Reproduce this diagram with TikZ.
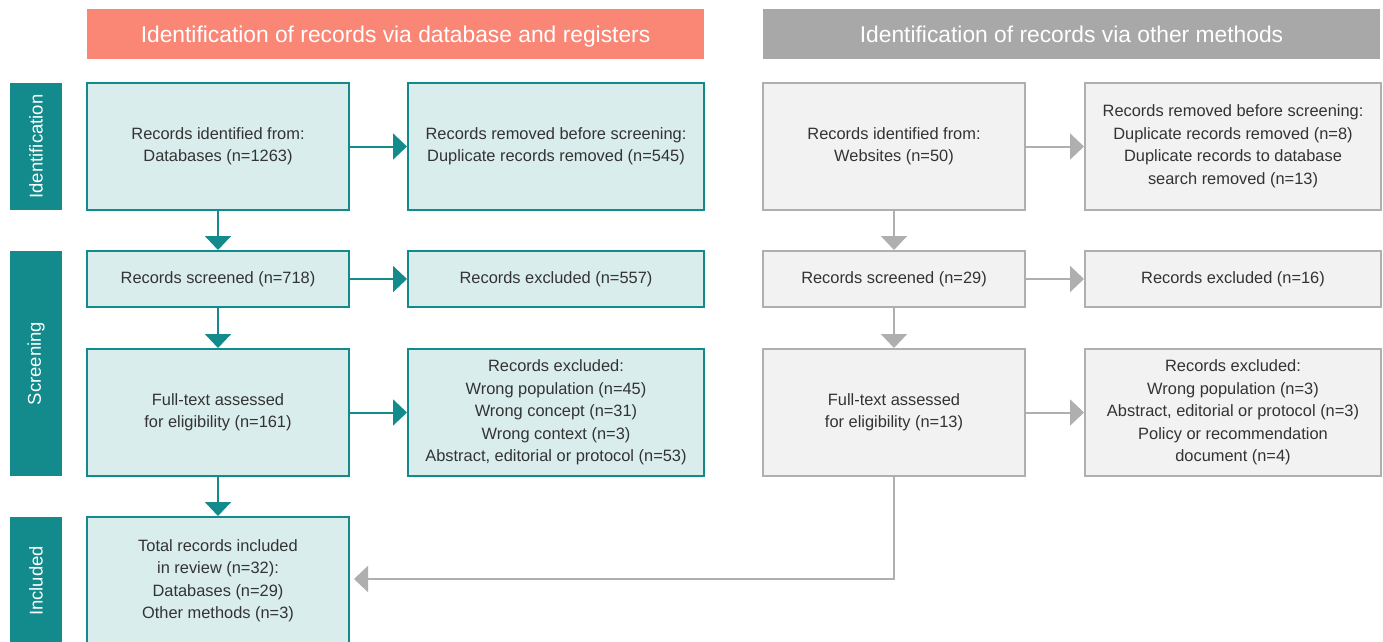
\documentclass[tikz,border=0pt]{standalone}
\usepackage{fontspec}
\setmainfont{Liberation Sans}
\usetikzlibrary{arrows.meta}
\definecolor{teal1}{HTML}{138A8B}
\definecolor{tealfill}{HTML}{DAEDED}
\definecolor{salmon}{HTML}{FA8676}
\definecolor{grayhead}{HTML}{A8A8A8}
\definecolor{grayfill}{HTML}{F2F2F2}
\definecolor{grayline}{HTML}{AFAFAF}
\definecolor{txt}{HTML}{333333}
\tikzset{
  header/.style={inner sep=0pt, minimum width=617pt, minimum height=50pt, text height=20pt, text depth=2pt, text=white, font=\fontsize{22.8}{27}\selectfont},
  side/.style={fill=teal1, inner sep=0pt, minimum width=52pt, text=white, font=\fontsize{18.5}{22}\selectfont, rotate=90},
  tbox/.style={draw=teal1, line width=2pt, fill=tealfill, inner sep=0pt, align=center, text=txt, font=\fontsize{16.4}{22.5}\selectfont},
  gbox/.style={draw=grayline, line width=2pt, fill=grayfill, inner sep=0pt, align=center, text=txt, font=\fontsize{16.4}{22.5}\selectfont},
  narrow/.style={minimum width=262pt},
  wide/.style={minimum width=296pt},
  tall/.style={minimum height=127pt},
  short/.style={minimum height=56pt},
  tharr/.style={draw=teal1, line width=2pt, -{Triangle[length=14pt, width=26pt]}},
  gharr/.style={draw=grayline, line width=2pt, -{Triangle[length=14pt, width=26pt]}},
}
\begin{document}
\begin{tikzpicture}[x=1pt,y=-1pt]
\useasboundingbox[fill=white] (0,0) rectangle (1383,642);
% headers
\node[header, fill=salmon] (hL) at (395.5,34) {Identification of records via database and registers};
\node[header, fill=grayhead] (hR) at (1071.5,34) {Identification of records via other methods};
% side labels
\node[side, minimum width=127pt, minimum height=52pt] (sI) at (36,146.5) {Identification};
\node[side, minimum width=225pt, minimum height=52pt] (sS) at (36,363.5) {Screening};
\node[side, minimum width=128pt, minimum height=52pt] (sN) at (36,581) {Included};
% left column
\node[tbox, narrow, tall] (a1) at (218,146.5) {Records identified from:\\Databases (n=1263)};
\node[tbox, wide, tall] (a2) at (556,146.5) {Records removed before screening:\\Duplicate records removed (n=545)};
\node[tbox, narrow, short] (a3) at (218,279) {Records screened (n=718)};
\node[tbox, wide, short] (a4) at (556,279) {Records excluded (n=557)};
\node[tbox, narrow, tall] (a5) at (218,412.5) {Full-text assessed\\for eligibility (n=161)};
\node[tbox, wide, tall] (a6) at (556,412.5) {Records excluded:\\Wrong population (n=45)\\Wrong concept (n=31)\\Wrong context (n=3)\\Abstract, editorial or protocol (n=53)};
\node[tbox, narrow, tall] (a7) at (218,580.5) {Total records included\\in review (n=32):\\Databases (n=29)\\Other methods (n=3)};
% right column
\node[gbox, narrow, tall] (b1) at (894,146.5) {Records identified from:\\Websites (n=50)};
\node[gbox, wide, tall] (b2) at (1233,146.5) {Records removed before screening:\\Duplicate records removed (n=8)\\Duplicate records to database\\search removed (n=13)};
\node[gbox, narrow, short] (b3) at (894,279) {Records screened (n=29)};
\node[gbox, wide, short] (b4) at (1233,279) {Records excluded (n=16)};
\node[gbox, narrow, tall] (b5) at (894,412.5) {Full-text assessed\\for eligibility (n=13)};
\node[gbox, wide, tall] (b6) at (1233,412.5) {Records excluded:\\Wrong population (n=3)\\Abstract, editorial or protocol (n=3)\\Policy or recommendation\\document (n=4)};
% arrows left
\draw[tharr] (a1.east) -- (a2.west);
\draw[tharr] (a3.east) -- (a4.west);
\draw[tharr] (a5.east) -- (a6.west);
\draw[tharr] (a1.south) -- (a3.north);
\draw[tharr] (a3.south) -- (a5.north);
\draw[tharr] (a5.south) -- (a7.north);
% arrows right
\draw[gharr] (b1.east) -- (b2.west);
\draw[gharr] (b3.east) -- (b4.west);
\draw[gharr] (b5.east) -- (b6.west);
\draw[gharr] (b1.south) -- (b3.north);
\draw[gharr] (b3.south) -- (b5.north);
\coordinate (turn) at (894,579);
\draw[gharr, shorten >=4pt] (b5.south) -- (turn) -- (a7.east |- turn);
\end{tikzpicture}
\end{document}
